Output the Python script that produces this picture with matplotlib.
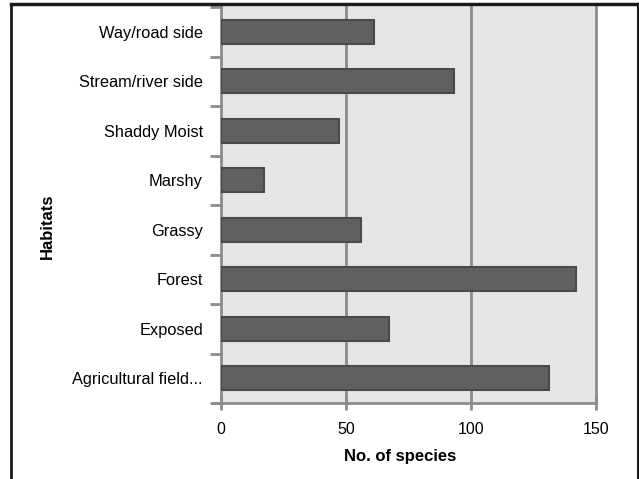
import matplotlib
matplotlib.use("Agg")
import matplotlib.pyplot as plt
from matplotlib.lines import Line2D
import numpy as np

categories = ["Agricultural field...", "Exposed", "Forest", "Grassy", "Marshy",
              "Shaddy Moist", "Stream/river side", "Way/road side"]
values = [131, 67, 142, 56, 17, 47, 93, 61]
xticks = [0, 50, 100, 150]

plt.rcParams['font.family'] = ['Liberation Sans', 'DejaVu Sans']

W, H = 639, 479
fig = plt.figure(figsize=(W/100, H/100), dpi=100)
L, R, B, T = 221, 596, 403, 7
ax = fig.add_axes([L/W, 1 - B/H, (R-L)/W, (B-T)/H])
ax.set_facecolor('#e6e6e6')

y = np.arange(len(categories))
ax.barh(y, values, height=0.48, color='#606060', edgecolor='#4a4a4a', linewidth=1.5, zorder=3)

ax.set_xlim(0, 150)
ax.set_ylim(-0.5, len(categories) - 0.5)
ax.set_xticks(xticks)
ax.set_xticklabels([str(v) for v in xticks], fontsize=11.5)
ax.set_yticks(y)
ax.set_yticklabels(categories, fontsize=11.8)
ax.set_yticks(np.arange(-0.5, len(categories)), minor=True)

ax.tick_params(axis='y', which='major', length=0, pad=13)
ax.tick_params(axis='y', which='minor', length=8, width=2, color='#8c8c8c', direction='out')
ax.tick_params(axis='x', which='major', length=10, width=2, color='#8c8c8c', direction='inout', pad=9)

for xv in xticks[1:]:
    ax.axvline(xv, color='#8c8c8c', linewidth=2, zorder=1, clip_on=False)
for s in ['top', 'right']:
    ax.spines[s].set_visible(False)
for s in ['left', 'bottom']:
    ax.spines[s].set_color('#8c8c8c')
    ax.spines[s].set_linewidth(2)
ax.spines['bottom'].set_bounds(-3.2, 150)
ax.spines['bottom'].set_zorder(0)

fig.text(47/W, 1 - 226/H, "Habitats", rotation=90, ha='center', va='center',
         fontsize=12, fontweight='bold')
fig.text(400/W, 1 - 457/H, "No. of species", ha='center', va='center',
         fontsize=12, fontweight='bold')

# figure frame
fig.add_artist(Line2D([11/W, 11/W], [0, 1 - 4/H], color='#1a1a1a', linewidth=2, transform=fig.transFigure))
fig.add_artist(Line2D([11/W, 638/W], [1 - 4/H, 1 - 4/H], color='#1a1a1a', linewidth=2.5, transform=fig.transFigure))
fig.add_artist(Line2D([638/W, 638/W], [0, 1 - 4/H], color='#1a1a1a', linewidth=1.5, transform=fig.transFigure))

fig.savefig("out.png", dpi=100)
